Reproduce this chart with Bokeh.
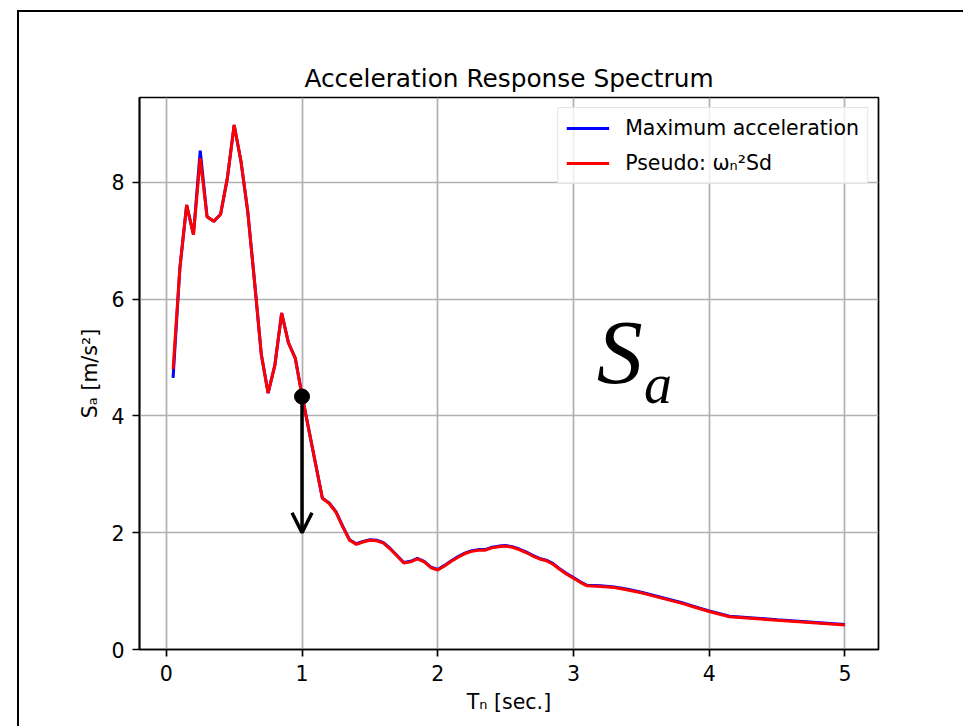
from bokeh.plotting import figure
from bokeh.models import (Range1d, FixedTicker, Legend, LegendItem, Label,
                          Arrow, OpenHead)
from bokeh.embed import file_html
from bokeh.resources import INLINE

# ---- data ----
period = [0.05, 0.10, 0.15, 0.20, 0.25, 0.30, 0.35, 0.40, 0.45, 0.50,
          0.55, 0.60, 0.65, 0.70, 0.75, 0.80, 0.85, 0.90, 0.95, 1.00,
          1.15, 1.20, 1.25, 1.30, 1.35, 1.40, 1.45, 1.50, 1.55, 1.60,
          1.65, 1.70, 1.75, 1.80, 1.85, 1.90, 1.95, 2.00, 2.05, 2.10,
          2.15, 2.20, 2.25, 2.30, 2.35, 2.40, 2.45, 2.50, 2.55, 2.60,
          2.65, 2.70, 2.75, 2.80, 2.85, 2.90, 2.95, 3.00, 3.05, 3.10,
          3.20, 3.30, 3.40, 3.50, 3.60, 3.70, 3.80, 3.90, 4.00, 4.10,
          4.15, 4.50, 5.00]

sa_max = [4.65, 6.53, 7.61, 7.10, 8.54, 7.41, 7.33, 7.45, 8.07, 8.98,
          8.36, 7.50, 6.30, 5.05, 4.39, 4.87, 5.76, 5.25, 4.99, 4.35,
          2.59, 2.51, 2.36, 2.11, 1.88, 1.81, 1.85, 1.88, 1.87, 1.83,
          1.73, 1.61, 1.49, 1.51, 1.56, 1.51, 1.41, 1.37, 1.44, 1.52,
          1.59, 1.65, 1.69, 1.71, 1.71, 1.75, 1.77, 1.78, 1.76, 1.72,
          1.67, 1.61, 1.56, 1.53, 1.47, 1.38, 1.30, 1.23, 1.16, 1.10,
          1.09, 1.07, 1.03, 0.98, 0.92, 0.86, 0.80, 0.73, 0.66, 0.60,
          0.57, 0.51, 0.43]

sa_pseudo = [4.80, 6.53, 7.61, 7.10, 8.41, 7.41, 7.33, 7.45, 8.07, 8.98,
             8.36, 7.50, 6.30, 5.05, 4.39, 4.87, 5.76, 5.25, 4.99, 4.35,
             2.59, 2.50, 2.35, 2.10, 1.87, 1.80, 1.84, 1.87, 1.86, 1.82,
             1.72, 1.60, 1.48, 1.50, 1.55, 1.50, 1.40, 1.36, 1.43, 1.51,
             1.58, 1.64, 1.68, 1.70, 1.70, 1.74, 1.76, 1.77, 1.75, 1.71,
             1.66, 1.60, 1.55, 1.52, 1.46, 1.37, 1.29, 1.22, 1.15, 1.09,
             1.08, 1.06, 1.02, 0.97, 0.91, 0.85, 0.79, 0.72, 0.65, 0.59,
             0.56, 0.50, 0.42]

marker_t = [1.0]
marker_sa = [4.33]
arrow_end_sa = 2.0

x_ticks = [0, 1, 2, 3, 4, 5]
y_ticks = [0, 2, 4, 6, 8]

FONT = "DejaVu Sans"
FS = "20.5px"

p = figure(width=944, height=714, output_backend="svg", toolbar_location=None,
           x_range=Range1d(-0.1975, 5.2475), y_range=Range1d(0, 9.45),
           min_border_left=120, min_border_right=85,
           min_border_top=85, min_border_bottom=77,
           title="Acceleration Response Spectrum")
p.margin = (12, 0, 0, 19)
p.styles = {"outline": "2px solid black"}

p.background_fill_color = "white"
p.border_fill_color = "white"
p.outline_line_color = "black"
p.outline_line_width = 1.7

p.title.align = "center"
p.title.text_font = FONT
p.title.text_font_size = "24.8px"
p.title.text_font_style = "normal"
p.title.text_color = "black"
p.title.standoff = 10

for ax in (p.xaxis, p.yaxis):
    ax.axis_line_color = "black"
    ax.axis_line_width = 1.7
    ax.major_tick_line_color = "black"
    ax.major_tick_line_width = 1.7
    ax.major_tick_out = 7
    ax.major_tick_in = 0
    ax.minor_tick_line_color = None
    ax.major_label_text_font = FONT
    ax.major_label_text_font_size = FS
    ax.major_label_text_color = "black"
    ax.axis_label_text_font = FONT
    ax.axis_label_text_font_size = FS
    ax.axis_label_text_font_style = "normal"
    ax.axis_label_text_color = "black"

p.xaxis.ticker = FixedTicker(ticks=x_ticks)
p.yaxis.ticker = FixedTicker(ticks=y_ticks)
p.xaxis.major_label_standoff = 8
p.yaxis.major_label_standoff = 8
p.xaxis.axis_label = "Tₙ [sec.]"
p.yaxis.axis_label = "Sₐ [m/s²]"
p.xaxis.axis_label_standoff = 6
p.yaxis.axis_label_standoff = 6

p.xgrid.ticker = FixedTicker(ticks=x_ticks)
p.ygrid.ticker = FixedTicker(ticks=y_ticks)
for g in (p.xgrid, p.ygrid):
    g.grid_line_color = "#b0b0b0"
    g.grid_line_width = 1.7

r_max = p.line(period, sa_max, line_color="blue", line_width=3)
r_pse = p.line(period, sa_pseudo, line_color="red", line_width=3)

p.add_layout(Arrow(end=OpenHead(size=20, line_width=3.5, line_color="black"),
                   x_start=marker_t[0], y_start=marker_sa[0],
                   x_end=marker_t[0], y_end=arrow_end_sa,
                   line_width=3.5, line_color="black"))
p.scatter(marker_t, marker_sa, size=15, color="black")

p.add_layout(Label(x=3.171, y=5.10, text="S", text_font="Liberation Serif",
                   text_font_style="italic", text_font_size="92px",
                   text_baseline="alphabetic", text_align="left",
                   text_color="black"))
p.add_layout(Label(x=3.52, y=4.55, text="a", text_font="Liberation Serif",
                   text_font_style="italic", text_font_size="56px",
                   text_baseline="alphabetic", text_align="left",
                   text_color="black"))

legend = Legend(items=[LegendItem(label="Maximum acceleration", renderers=[r_max]),
                       LegendItem(label="Pseudo: ωₙ²Sd", renderers=[r_pse])],
                location="top_right")
legend.label_text_font = FONT
legend.label_text_font_size = FS
legend.label_text_color = "black"
legend.glyph_width = 43
legend.glyph_height = 24
legend.label_height = 24
legend.spacing = 11
legend.padding = 8
legend.margin = 10
legend.label_standoff = 16
legend.border_line_color = "#cccccc"
legend.border_line_width = 1.5
legend.background_fill_alpha = 0.8
p.add_layout(legend)

open("out.html", "w").write(file_html(p, INLINE))
